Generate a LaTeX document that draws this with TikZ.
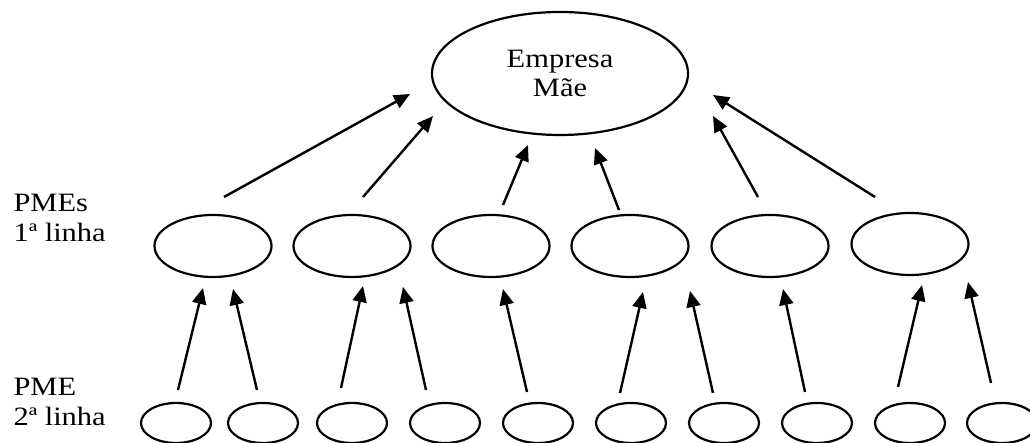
\documentclass[tikz,border=0pt]{standalone}
\usepackage{fontspec}
\setmainfont{Liberation Serif}[FakeStretch=1.15]
\usetikzlibrary{shapes.geometric,arrows.meta}

\begin{document}
\begin{tikzpicture}[x=1pt,y=1pt,
        font=\fontsize{26.5}{30}\selectfont,
        oval/.style={ellipse,draw,line width=2.2pt,inner sep=0pt,outer sep=0pt},
        pme/.style={oval,minimum width=117pt,minimum height=62pt},
        pmeb/.style={oval,minimum width=70pt,minimum height=40pt},
        pil/.style={-{Triangle[length=16pt,width=14pt]},line width=2.4pt}]
\useasboundingbox (0,0) rectangle (1030,443);

\node[oval,minimum width=256pt,minimum height=123pt,align=center] (mae) at (560,369.5) {Empresa\\[-1pt]Mãe};

\node[anchor=west,align=left] (lab1) at (10,225) {PMEs\\1ª linha};
\node[anchor=west,align=left] (lab2) at (10,41) {PME\\2ª linha};

% 1a linha
\node[pme] (m1) at (213,197) {};
\node[pme] (m2) at (352,197) {};
\node[pme] (m3) at (491,197) {};
\node[pme] (m4) at (630,197) {};
\node[pme] (m5) at (770,197) {};
\node[pme] (m6) at (910,199) {};

% 2a linha
\node[pmeb] (b1) at (176,20) {};
\node[pmeb] (b2) at (263,20) {};
\node[pmeb] (b3) at (352,20) {};
\node[pmeb] (b4) at (445,20) {};
\node[pmeb] (b5) at (538,20) {};
\node[pmeb] (b6) at (631,20) {};
\node[pmeb] (b7) at (724,20) {};
\node[pmeb] (b8) at (817,20) {};
\node[pmeb] (b9) at (910,20) {};
\node[pmeb] (b10) at (1002,20) {};

\draw[pil] ([shift={(2,13)}]b1.north) -- ([shift={(-10,-11)}]m1.south);
\draw[pil] ([shift={(-6,13)}]b2.north) -- ([shift={(20,-12)}]m1.south);
\draw[pil] ([shift={(-11,15)}]b3.north) -- ([shift={(11,-9)}]m2.south);
\draw[pil] ([shift={(-19,13)}]b4.north) -- ([shift={(51,-10)}]m2.south);
\draw[pil] ([shift={(-11,11)}]b5.north) -- ([shift={(12,-12)}]m3.south);
\draw[pil] ([shift={(-11,10)}]b6.north) -- ([shift={(13,-15)}]m4.south);
\draw[pil] ([shift={(-11,10)}]b7.north) -- ([shift={(60,-14)}]m4.south);
\draw[pil] ([shift={(-12,11)}]b8.north) -- ([shift={(13,-12)}]m5.south);
\draw[pil] ([shift={(-12,16)}]b9.north) -- ([shift={(12,-10)}]m6.south);
\draw[pil] ([shift={(-11,20)}]b10.north) -- ([shift={(58,-7)}]m6.south);

\draw[pil] ([shift={(11,18)}]m1.north) -- ([shift={(-22,-20.5)}]mae.west);
\draw[pil] ([shift={(11,18)}]m2.north) -- ([shift={(1,-42.5)}]mae.west);
\draw[pil] ([shift={(12,10)}]m3.north) -- ([shift={(-32,-10)}]mae.south);
\draw[pil] ([shift={(-11,5)}]m4.north) -- ([shift={(35,-13)}]mae.south);
\draw[pil] ([shift={(-12,18)}]m5.north) -- ([shift={(25,-42.5)}]mae.east);
\draw[pil] ([shift={(-35,16)}]m6.north) -- ([shift={(25,-21.5)}]mae.east);
\end{tikzpicture}
\end{document}
